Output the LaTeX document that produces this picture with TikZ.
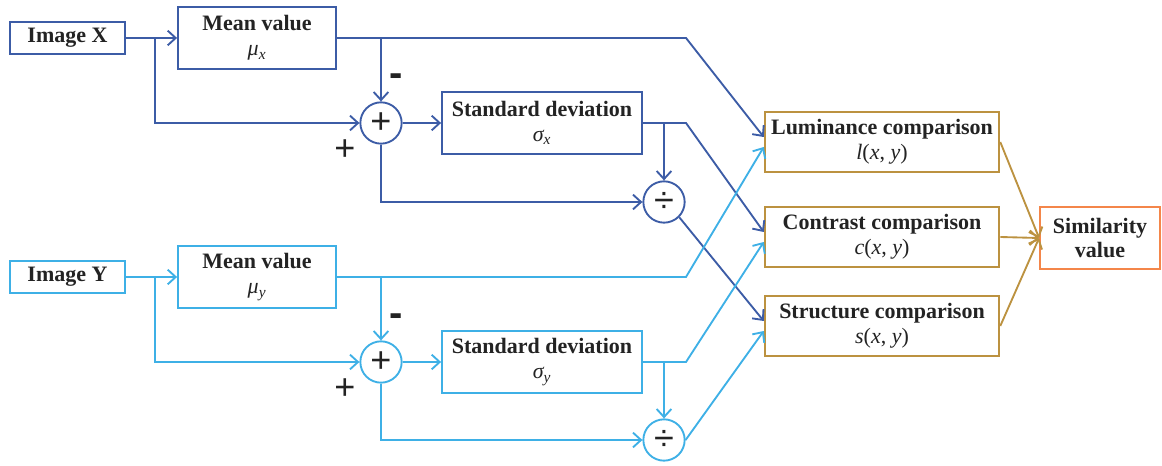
\documentclass[tikz,border=0pt]{standalone}
\usepackage{fontspec}
\setmainfont{Liberation Serif}
\setsansfont{Liberation Sans}
\usetikzlibrary{arrows.meta,calc}

\definecolor{xblue}{RGB}{60,92,166}
\definecolor{yblue}{RGB}{62,176,230}
\definecolor{cmpgold}{RGB}{188,146,64}
\definecolor{simorange}{RGB}{244,134,74}
\definecolor{txtgray}{RGB}{35,35,35}

\tikzset{
  block/.style={draw, line width=1.4pt, fill=white, text=txtgray, align=center, inner sep=0pt,
    font=\fontsize{16.5}{18.5}\selectfont\bfseries},
  xbox/.style={block, draw=xblue},
  ybox/.style={block, draw=yblue},
  cmpbox/.style={block, draw=cmpgold, minimum width=176pt, minimum height=45pt},
  simbox/.style={block, draw=simorange, minimum width=90pt, minimum height=47pt},
  imgsize/.style={minimum width=86pt, minimum height=24pt},
  meansize/.style={minimum width=118.5pt, minimum height=46.5pt},
  stdsize/.style={minimum width=150pt, minimum height=46.5pt},
  opnode/.style={circle, draw, line width=1.4pt, fill=white, minimum size=31pt, inner sep=0pt},
  xop/.style={opnode, draw=xblue},
  yop/.style={opnode, draw=yblue},
  sign/.style={text=txtgray, inner sep=0pt, font=\sffamily\fontsize{27}{27}\selectfont},
  minus/.style={text=txtgray, inner sep=0pt, font=\sffamily\bfseries\fontsize{30}{30}\selectfont},
  xline/.style={draw=xblue, line width=1.4pt, ->},
  yline/.style={draw=yblue, line width=1.4pt, ->},
  cmpline/.style={draw=cmpgold, line width=1.4pt, ->},
}

\begin{document}
\begin{tikzpicture}[x=0.75pt,y=0.75pt,yscale=-1,xscale=1,
    >={Straight Barb[length=6pt,width=11pt]}]
  \useasboundingbox (0,0) rectangle (1162,466);

  % upper branch, image X
  \node[xbox, imgsize] (imgX) at (67.5,38) {Image X};
  \node[xbox, meansize] (meanX) at (257,38) {Mean value\\{\normalfont\itshape μ\textsubscript{x}}};
  \node[xop, label={[sign]center:+}] (plusX) at (381,123) {};
  \node[xbox, stdsize] (stdX) at (542,123) {Standard deviation\\{\normalfont\itshape σ\textsubscript{x}}};
  \node[xop, label={[sign]center:÷}] (divX) at (664,202) {};
  \node[minus] (minusX) at (396,80) {-};
  \node[sign] (addX) at (345,150) {+};

  % lower branch, image Y
  \node[ybox, imgsize] (imgY) at (67.5,277) {Image Y};
  \node[ybox, meansize] (meanY) at (257,277) {Mean value\\{\normalfont\itshape μ\textsubscript{y}}};
  \node[yop, label={[sign]center:+}] (plusY) at (381,362) {};
  \node[ybox, stdsize] (stdY) at (542,362) {Standard deviation\\{\normalfont\itshape σ\textsubscript{y}}};
  \node[yop, label={[sign]center:÷}] (divY) at (664,440) {};
  \node[minus] (minusY) at (396,320) {-};
  \node[sign] (addY) at (345,389) {+};

  % comparisons and result
  \node[cmpbox] (lum) at (882,142) {Luminance comparison\\{\normalfont\itshape l\/\upshape(\itshape x\upshape, \itshape y\upshape)}};
  \node[cmpbox] (con) at (882,237) {Contrast comparison\\{\normalfont\itshape c\upshape(\itshape x\upshape, \itshape y\upshape)}};
  \node[cmpbox] (str) at (882,326) {Structure comparison\\{\normalfont\itshape s\upshape(\itshape x\upshape, \itshape y\upshape)}};
  \node[simbox] (sim) at (1100,238) {Similarity\\value};

  % junctions and bends
  \coordinate (bX) at (155,38);
  \coordinate (jX) at (381,38);
  \coordinate (kX) at (686,38);
  \coordinate (sX) at (664,123);
  \coordinate (tX) at (686,123);
  \coordinate (bY) at (155,277);
  \coordinate (jY) at (381,277);
  \coordinate (kY) at (686,277);
  \coordinate (sY) at (664,362);
  \coordinate (tY) at (686,362);

  % X connectors
  \draw[xline] (imgX) -- (meanX);
  \draw[xline] (bX) |- (plusX);
  \draw[xline] (jX) -- (plusX);
  \draw[xline] (meanX.east) -- (kX) -- ($(lum.west)+(0,-5)$);
  \draw[xline] (plusX) -- (stdX);
  \draw[xline] (sX) -- (divX);
  \draw[xline] (stdX.east) -- (tX) -- ($(con.west)+(0,-5)$);
  \draw[xline] (plusX) |- (divX);
  \draw[xline] (divX.south east) -- ($(str.west)+(0,-5)$);

  % Y connectors
  \draw[yline] (imgY) -- (meanY);
  \draw[yline] (bY) |- (plusY);
  \draw[yline] (jY) -- (plusY);
  \draw[yline] (meanY.east) -- (kY) -- ($(lum.west)+(0,5)$);
  \draw[yline] (plusY) -- (stdY);
  \draw[yline] (sY) -- (divY);
  \draw[yline] (stdY.east) -- (tY) -- ($(con.west)+(0,5)$);
  \draw[yline] (plusY) |- (divY);
  \draw[yline] (divY.east) -- ($(str.west)+(0,5)$);

  % into the similarity value
  \draw[cmpline] (lum.east) -- (sim.west);
  \draw[cmpline] (con.east) -- (sim.west);
  \draw[cmpline] (str.east) -- (sim.west);
\end{tikzpicture}
\end{document}
